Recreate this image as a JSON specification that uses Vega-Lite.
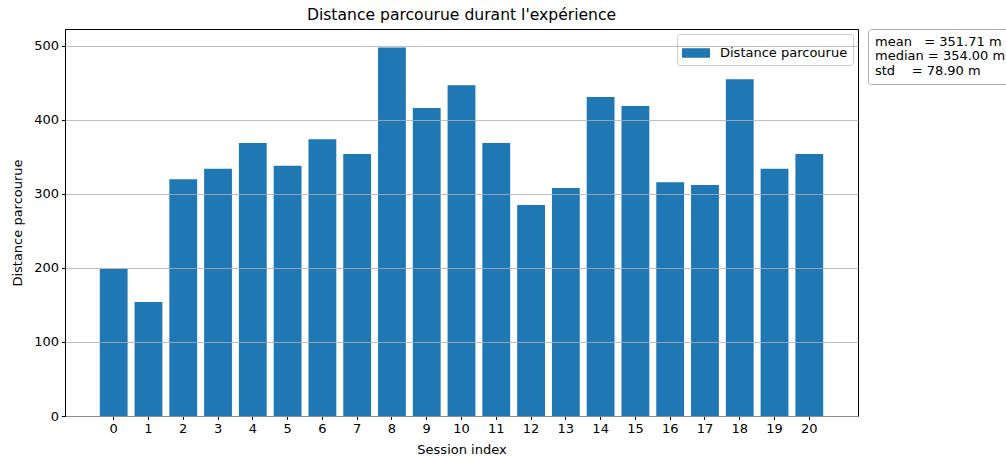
{
  "$schema": "https://vega.github.io/schema/vega-lite/v6.json",
  "width": 793,
  "height": 387,
  "autosize": {"type": "none"},
  "padding": {"left": 65, "top": 29, "right": 148, "bottom": 43},
  "background": "white",
  "config": {
    "font": "DejaVu Sans",
    "view": {"stroke": "black", "strokeWidth": 1},
    "axis": {
      "labelFont": "DejaVu Sans",
      "titleFont": "DejaVu Sans",
      "labelFontSize": 13,
      "titleFontSize": 13,
      "labelColor": "black",
      "titleColor": "black",
      "titleFontWeight": "normal",
      "domainColor": "black",
      "tickColor": "black",
      "tickSize": 3.5,
      "labelPadding": 3
    },
    "legend": {"labelFont": "DejaVu Sans", "labelColor": "black"}
  },
  "title": {
    "text": "Distance parcourue durant l'expérience",
    "fontSize": 15.6,
    "fontWeight": "normal",
    "font": "DejaVu Sans",
    "color": "black",
    "anchor": "middle",
    "offset": 5
  },
  "datasets": {
    "sessions": [
      {"session": 0, "distance": 199},
      {"session": 1, "distance": 154},
      {"session": 2, "distance": 320},
      {"session": 3, "distance": 334},
      {"session": 4, "distance": 369},
      {"session": 5, "distance": 338},
      {"session": 6, "distance": 374},
      {"session": 7, "distance": 354},
      {"session": 8, "distance": 498},
      {"session": 9, "distance": 416},
      {"session": 10, "distance": 447},
      {"session": 11, "distance": 369},
      {"session": 12, "distance": 285},
      {"session": 13, "distance": 308},
      {"session": 14, "distance": 431},
      {"session": 15, "distance": 419},
      {"session": 16, "distance": 316},
      {"session": 17, "distance": 312},
      {"session": 18, "distance": 455},
      {"session": 19, "distance": 334},
      {"session": 20, "distance": 354}
    ],
    "stats": [
      {"stat": "mean\u00a0\u00a0\u00a0= 351.71 m"},
      {"stat": "median = 354.00 m"},
      {"stat": "std\u00a0\u00a0\u00a0\u00a0= 78.90 m"}
    ]
  },
  "layer": [
    {
      "data": {"name": "sessions"},
      "mark": {"type": "bar", "stroke": null},
      "encoding": {
        "x": {
          "field": "session",
          "type": "ordinal",
          "title": "Session index",
          "scale": {"paddingInner": 0.2, "paddingOuter": 1.04},
          "axis": {"labelAngle": 0, "titlePadding": 8, "grid": false}
        },
        "y": {
          "field": "distance",
          "type": "quantitative",
          "title": "Distance parcourue",
          "scale": {"domain": [0, 522.9], "nice": false, "zero": true},
          "axis": {
            "values": [0, 100, 200, 300, 400, 500],
            "grid": true,
            "gridColor": "#b0b0b0",
            "gridWidth": 0.8,
            "gridOpacity": 1,
            "zindex": 1,
            "titlePadding": 9
          }
        },
        "color": {
          "datum": "Distance parcourue",
          "type": "nominal",
          "scale": {"range": ["#1f77b4"]},
          "legend": {
            "title": null,
            "orient": "top-right",
            "offset": 5,
            "symbolType": "M-1,-0.34H1V0.34H-1Z",
            "symbolSize": 784,
            "symbolStrokeWidth": 0,
            "symbolOpacity": 1,
            "labelFontSize": 13,
            "labelOffset": 10,
            "fillColor": "rgba(255,255,255,0.8)",
            "strokeColor": "#cccccc",
            "cornerRadius": 3,
            "padding": 5
          }
        }
      }
    },
    {
      "data": {"name": "stats"},
      "mark": {"type": "point", "opacity": 0},
      "encoding": {
        "shape": {
          "field": "stat",
          "type": "nominal",
          "legend": {
            "title": null,
            "orient": "right",
            "offset": 10,
            "symbolSize": 0,
            "symbolOpacity": 0,
            "symbolStrokeWidth": 0,
            "labelOffset": -12,
            "labelFontSize": 13,
            "labelLimit": 400,
            "rowPadding": 0.5,
            "fillColor": "white",
            "strokeColor": "#b0b0b0",
            "cornerRadius": 3,
            "padding": 6
          }
        }
      }
    }
  ]
}
